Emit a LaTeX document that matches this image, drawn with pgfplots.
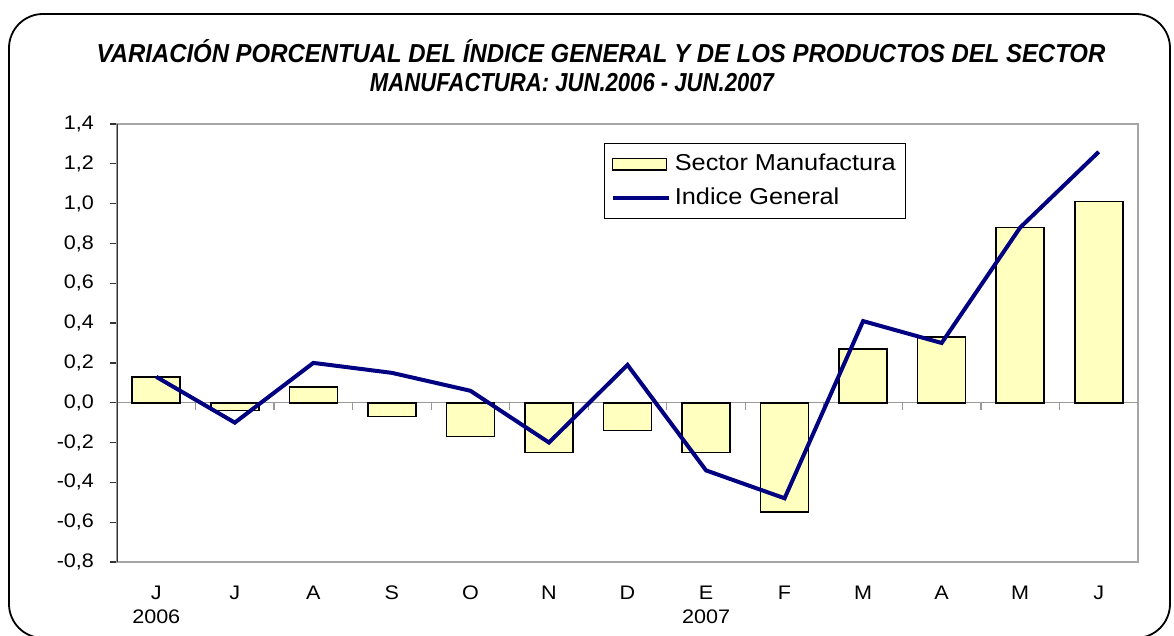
\documentclass[border=0pt]{standalone}
\usepackage{fontspec}
\setmainfont{Liberation Sans}[FakeStretch=1.1]
\newfontfamily\titlefontA{Liberation Sans}[FakeStretch=0.92]
\newfontfamily\titlefontB{Liberation Sans}[FakeStretch=0.85]
\usepackage{pgfplots}
\pgfplotsset{compat=1.18}
\definecolor{baryellow}{HTML}{FFFFC0}
\definecolor{navyline}{HTML}{000080}
\begin{document}
\begin{tikzpicture}
\useasboundingbox (0,0) rectangle (587pt,318pt);
\draw[line width=0.9pt, rounded corners=17pt] (4.5pt,-1pt) rectangle (585pt,311pt);
\node[font=\titlefontA\bfseries\itshape\fontsize{13}{15}\selectfont, inner sep=0pt] at (300.5pt,292.5pt)
 {VARIACIÓN PORCENTUAL DEL ÍNDICE GENERAL Y DE LOS PRODUCTOS DEL SECTOR};
\node[font=\titlefontB\bfseries\itshape\fontsize{13}{15}\selectfont, inner sep=0pt] at (286pt,276.5pt)
 {MANUFACTURA: JUN.2006 - JUN.2007};
\begin{axis}[at={(58.5pt,37pt)}, anchor=south west, scale only axis,
  width=510.5pt, height=219pt,
  xmin=-0.5, xmax=12.5, ymin=-0.8, ymax=1.4,
  ytick={-0.8,-0.6,-0.4,-0.2,0,0.2,0.4,0.6,0.8,1.0,1.2,1.4},
  yticklabels={{-0,8},{-0,6},{-0,4},{-0,2},{0,0},{0,2},{0,4},{0,6},{0,8},{1,0},{1,2},{1,4}},
  xtick={0,...,12},
  xticklabels={{J\\2006},J,A,S,O,N,D,{E\\2007},F,M,A,M,J},
  xticklabel style={align=center, anchor=north, font=\fontsize{9.8}{12}\selectfont},
  yticklabel style={font=\fontsize{9.8}{10}\selectfont, xshift=-4.5pt},
  x tick label style={yshift=-5pt},
  axis line style={gray!70, line width=0.7pt},
  tick pos=left, tick align=outside,
  major tick length=3.5pt,
  ytick style={black!80, line width=0.6pt},
  xtick style={draw=none},
  legend style={at={(0.477,0.957)}, anchor=north west, draw=black, line width=0.5pt,
    font=\fontsize{11.5}{13}\selectfont, inner xsep=3pt, inner ysep=3.5pt, row sep=3pt,
    nodes={inner sep=2pt}},
  legend cell align=left,
]
\draw[gray!80, line width=0.7pt] (axis cs:-0.5,0) -- (axis cs:12.5,0);
\pgfplotsinvokeforeach{0,...,11}{
  \draw[gray!80, line width=0.6pt] (axis cs:#1.5,0) -- ([yshift=-3.5pt]axis cs:#1.5,0);
}
\addplot[ybar, bar width=24pt, fill=baryellow, draw=black, line width=0.8pt,
  legend image code/.code={\draw[fill=baryellow, draw=black, line width=0.8pt] (0cm,-0.1cm) rectangle (0.95cm,0.1cm);}]
  coordinates {(0,0.13) (1,-0.04) (2,0.08) (3,-0.07) (4,-0.17) (5,-0.25) (6,-0.14) (7,-0.25) (8,-0.55) (9,0.27) (10,0.33) (11,0.88) (12,1.01)};
\addlegendentry{Sector Manufactura}
\addplot[navyline, line width=2pt, mark=none,
  legend image code/.code={\draw[navyline, line width=2pt] (0cm,0cm) -- (0.99cm,0cm);}]
  coordinates {(0,0.13) (1,-0.10) (2,0.20) (3,0.15) (4,0.06) (5,-0.20) (6,0.19) (7,-0.34) (8,-0.48) (9,0.41) (10,0.30) (11,0.88) (12,1.26)};
\addlegendentry{Indice General}
\draw[black!80, line width=0.7pt] (rel axis cs:0,0) -- (rel axis cs:0,1);
\end{axis}
\end{tikzpicture}
\end{document}
